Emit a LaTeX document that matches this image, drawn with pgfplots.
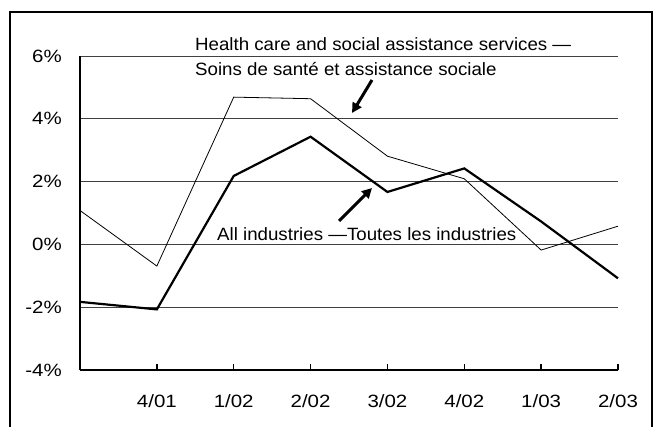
\documentclass[border=0pt]{standalone}
\usepackage{fontspec}
\setmainfont{Liberation Sans}[FakeStretch=1.05]
\newfontfamily\tickfont{Liberation Sans}[FakeStretch=1.15]
\usepackage{pgfplots}
\pgfplotsset{compat=1.18}
\usetikzlibrary{arrows.meta}
\pgfplotstableread{
idx all health
0 -1.83 1.08
1 -2.07 -0.69
2 2.18 4.69
3 3.43 4.64
4 1.67 2.81
5 2.42 2.09
6 0.73 -0.18
7 -1.08 0.58
}\datatable
\usepackage{pgfplotstable}
\begin{document}
\begin{tikzpicture}[x=1bp,y=1bp,font=\fontsize{17.8bp}{21bp}\selectfont]
\useasboundingbox (0,0) rectangle (657,426);
\draw[line width=1.5bp] (10,-2) -- (10,414) -- (652,414) -- (652,-2);
\begin{axis}[
  at={(80bp,56bp)}, anchor=south west,
  scale only axis, width=538bp, height=314bp,
  xmin=0, xmax=7, ymin=-4, ymax=6,
  axis lines*=left,
  axis line style={line width=1.6bp, black},
  xtick={0,1,2,3,4,5,6,7},
  xticklabels={,4/01,1/02,2/02,3/02,4/02,1/03,2/03},
  ytick={-4,-2,0,2,4,6},
  yticklabels={-4\%,-2\%,0\%,2\%,4\%,6\%},
  tick align=inside,
  major tick length=6bp,
  xtick style={line width=1.4bp, black},
  ytick style={draw=none},
  ymajorgrids=true,
  major grid style={line width=0.8bp, black!75},
  yticklabel style={font=\tickfont\fontsize{17.8bp}{21bp}\selectfont, anchor=east, inner sep=0pt, xshift=-18bp},
  xticklabel style={font=\tickfont\fontsize{17.8bp}{21bp}\selectfont, anchor=north, inner sep=0pt, yshift=-24bp},
  clip=false,
]
\addplot[line width=0.8bp, black] table[x=idx, y=health] {\datatable};
\addplot[line width=2.2bp, black] table[x=idx, y=all] {\datatable};
\end{axis}
\node[anchor=base west, inner sep=0pt] at (195,376) {Health care and social assistance services —};
\node[anchor=base west, inner sep=0pt] at (195,351) {Soins de santé et assistance sociale};
\node[anchor=base west, inner sep=0pt] at (217,186) {All industries —Toutes les industries};
\draw[line width=3bp, -{Triangle[length=10bp,width=10bp]}] (372,346) -- (352,313);
\draw[line width=3bp, -{Triangle[length=10bp,width=10bp]}] (339,205) -- (372,238);
\end{tikzpicture}
\end{document}
